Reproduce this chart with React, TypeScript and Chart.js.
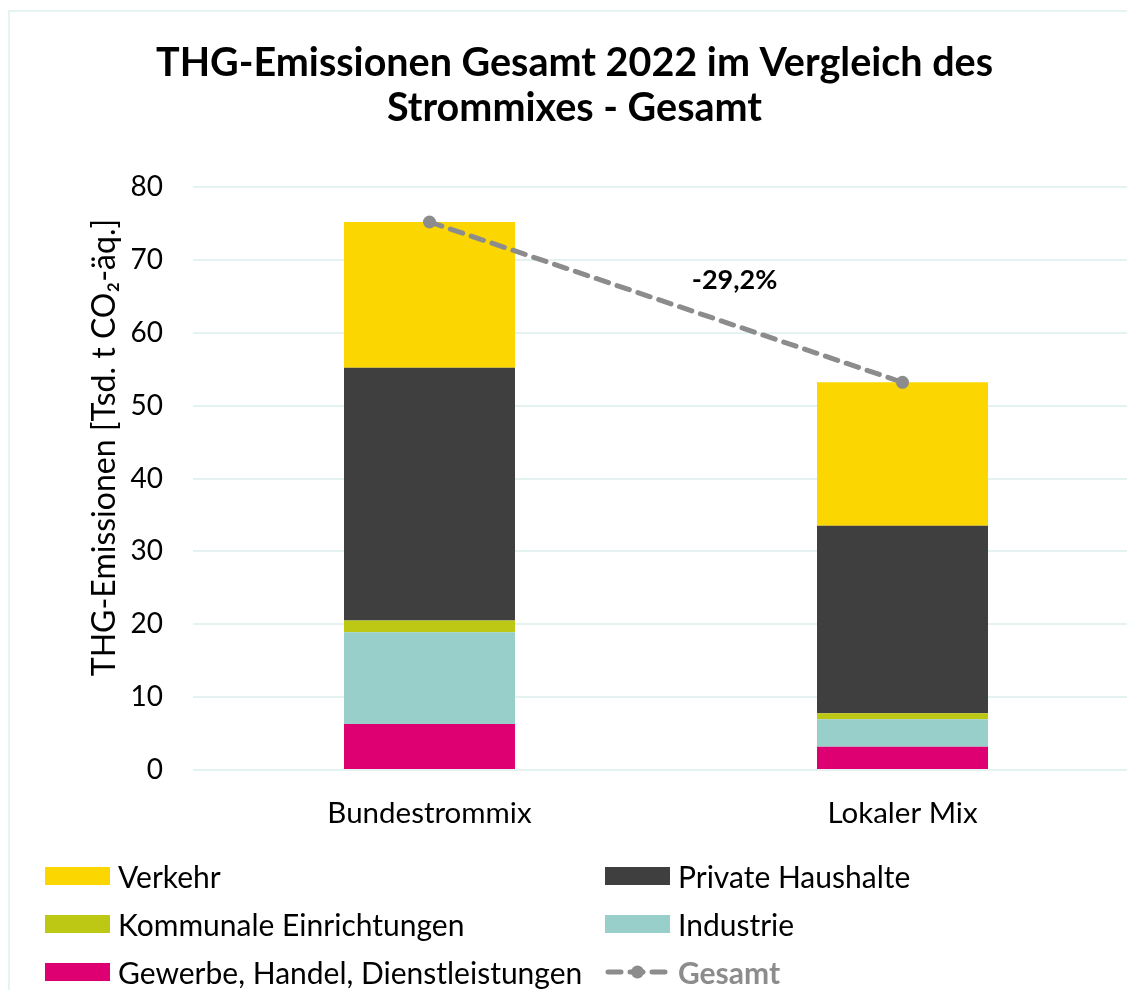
import React, { useEffect, useRef } from "react";
import { Chart, registerables } from "chart.js";
Chart.register(...registerables);

const categories = ["Bundestrommix", "Lokaler Mix"];
const verkehr = [20.0, 19.7];
const privateHaushalte = [34.7, 25.7];
const kommunale = [1.6, 0.85];
const industrie = [12.6, 3.75];
const gewerbe = [6.3, 3.2];
const gesamt = [75.2, 53.2];
const yMin = 0;
const yMax = 80;
const yStep = 10;
const changeLabel = "-29,2%";
const titleLines = ["THG-Emissionen Gesamt 2022 im Vergleich des", "Strommixes - Gesamt"];
const yTitle = "THG-Emissionen [Tsd. t CO\u2082-äq.]";

const COLORS = {
  verkehr: "#FCD600",
  private: "#3F3F3F",
  kommunal: "#BCC813",
  industrie: "#99CFCA",
  gewerbe: "#DE0072",
  gesamt: "#8C8C8C",
  grid: "#E4F2F2",
};

const FONT = "Lato, 'Open Sans', sans-serif";
const CW = 1140;
const CH = 978;

const legendItems = [
  { label: "Verkehr", color: COLORS.verkehr, x: 37, y: 868 },
  { label: "Private Haushalte", color: COLORS.private, x: 597, y: 868 },
  { label: "Kommunale Einrichtungen", color: COLORS.kommunal, x: 37, y: 916 },
  { label: "Industrie", color: COLORS.industrie, x: 597, y: 916 },
  { label: "Gewerbe, Handel, Dienstleistungen", color: COLORS.gewerbe, x: 37, y: 964 },
];

export default function App() {
  const ref = useRef<HTMLCanvasElement>(null);
  useEffect(() => {
    document.body.style.overflow = "hidden";
    if (!ref.current) return;
    const extras = {
      id: "extras",
      afterDatasetsDraw(chart: any) {
        const ctx = chart.ctx;
        const xs = chart.scales.x;
        const ys = chart.scales.y;
        ctx.save();
        ctx.fillStyle = "#000";
        ctx.font = `bold 27px ${FONT}`;
        ctx.textAlign = "center";
        ctx.textBaseline = "middle";
        ctx.fillText(changeLabel, xs.getPixelForValue(0.645), ys.getPixelForValue(67.2));
        ctx.restore();
        ctx.save();
        ctx.translate(95, (chart.chartArea.top + chart.chartArea.bottom) / 2 - 31);
        ctx.rotate(-Math.PI / 2);
        ctx.fillStyle = "#000";
        ctx.font = `32px ${FONT}`;
        ctx.textAlign = "center";
        ctx.textBaseline = "middle";
        ctx.fillText(yTitle, 0, 0);
        ctx.restore();
      },
    };
    const chart = new Chart(ref.current, {
      type: "bar",
      data: {
        labels: categories,
        datasets: [
          { type: "line", label: "Gesamt", data: gesamt, stack: "gesamt", order: 0, borderColor: COLORS.gesamt, backgroundColor: COLORS.gesamt, borderWidth: 5, borderDash: [13, 9], borderCapStyle: "round", pointRadius: 6.5, pointBackgroundColor: COLORS.gesamt, pointBorderWidth: 0 } as any,
          { label: "Gewerbe, Handel, Dienstleistungen", data: gewerbe, backgroundColor: COLORS.gewerbe, stack: "s", order: 1 },
          { label: "Industrie", data: industrie, backgroundColor: COLORS.industrie, stack: "s", order: 1 },
          { label: "Kommunale Einrichtungen", data: kommunale, backgroundColor: COLORS.kommunal, stack: "s", order: 1 },
          { label: "Private Haushalte", data: privateHaushalte, backgroundColor: COLORS.private, stack: "s", order: 1 },
          { label: "Verkehr", data: verkehr, backgroundColor: COLORS.verkehr, stack: "s", order: 1 },
        ],
      },
      options: {
        responsive: false,
        animation: false,
        devicePixelRatio: 1,
        layout: { padding: { left: 0, right: 11, top: 0, bottom: 0 } },
        datasets: { bar: { barPercentage: 1, categoryPercentage: 0.3615, borderWidth: 0 } },
        plugins: {
          legend: { display: false },
          tooltip: { enabled: false },
          title: {
            display: true,
            text: titleLines,
            color: "#000",
            font: { family: FONT, size: 39.5, weight: "bold", lineHeight: 45 / 39.5 },
            padding: { top: 29, bottom: 56 },
          },
        },
        scales: {
          x: {
            stacked: true,
            grid: { display: false },
            border: { display: false },
            ticks: { color: "#000", font: { family: FONT, size: 29.5 }, padding: 18 },
            afterFit: (s: any) => { s.height = 220; },
          },
          y: {
            stacked: true,
            min: yMin,
            max: yMax,
            ticks: { stepSize: yStep, color: "#000", font: { family: FONT, size: 28 }, padding: 30 },
            grid: { color: COLORS.grid, lineWidth: 2, drawTicks: false },
            border: { display: false },
            afterFit: (s: any) => { s.width = 183; },
          },
        },
      },
      plugins: [extras],
    });
    return () => chart.destroy();
  }, []);

  return (
    <div style={{ position: "relative", width: 1127, height: 982, overflow: "hidden", fontFamily: FONT }}>
      <div style={{ position: "absolute", left: 0, top: 2, right: 0, bottom: 0, borderLeft: "2px solid #E6F3F3", borderTop: "2px solid #E6F3F3" }} />
      <canvas ref={ref} width={CW} height={CH} style={{ position: "absolute", left: 2, top: 4, width: CW, height: CH }} />
      {legendItems.map((it) => (
        <div key={it.label} style={{ position: "absolute", left: it.x, top: it.y - 20, height: 40, display: "flex", alignItems: "center", whiteSpace: "nowrap" }}>
          <span style={{ display: "inline-block", width: 65, height: 18, background: it.color }} />
          <span style={{ marginLeft: 8, fontSize: 30, color: "#000" }}>{it.label}</span>
        </div>
      ))}
      <div style={{ position: "absolute", left: 597, top: 944, height: 40, display: "flex", alignItems: "center", whiteSpace: "nowrap" }}>
        <svg width={65} height={18} style={{ display: "block" }}>
          <line x1={3} y1={9} x2={62} y2={9} stroke={COLORS.gesamt} strokeWidth={5} strokeDasharray="13 9" strokeLinecap="round" />
          <circle cx={32.5} cy={9} r={6.5} fill={COLORS.gesamt} />
        </svg>
        <span style={{ marginLeft: 8, fontSize: 30, color: COLORS.gesamt, fontWeight: "bold" }}>Gesamt</span>
      </div>
    </div>
  );
}
